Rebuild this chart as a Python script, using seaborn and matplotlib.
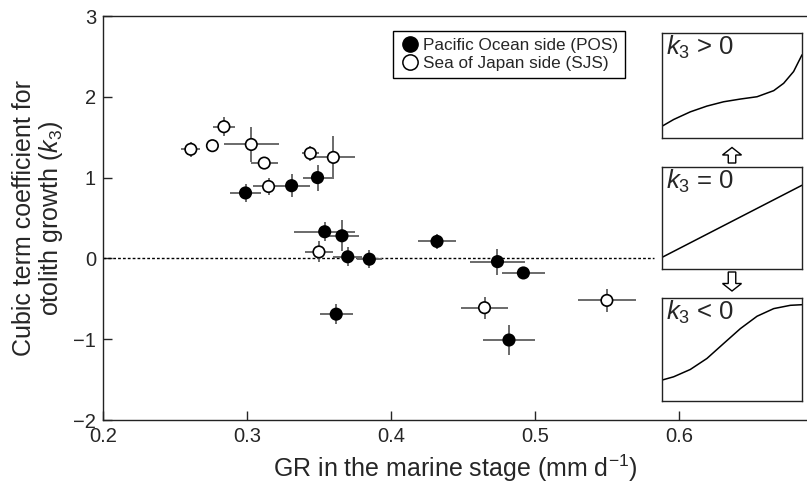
import numpy as np
import pandas as pd
import matplotlib
matplotlib.use("Agg")
import matplotlib.pyplot as plt
import seaborn as sns
from matplotlib.lines import Line2D
from matplotlib.patches import FancyArrow

# Pacific Ocean side (filled)
pos_gr = [0.299, 0.331, 0.349, 0.354, 0.366, 0.370, 0.385, 0.362, 0.432, 0.474, 0.492, 0.482]
pos_k3 = [0.81, 0.90, 1.00, 0.33, 0.28, 0.02, -0.01, -0.69, 0.21, -0.04, -0.18, -1.01]
pos_gr_err = [0.0105, 0.013, 0.0104, 0.021, 0.012, 0.010, 0.0087, 0.0116, 0.013, 0.019, 0.0147, 0.018]
pos_k3_err = [0.11, 0.14, 0.16, 0.12, 0.19, 0.12, 0.11, 0.12, 0.09, 0.16, 0.065, 0.19]

# Sea of Japan side (open)
sjs_gr = [0.261, 0.276, 0.284, 0.303, 0.312, 0.315, 0.344, 0.360, 0.350, 0.465, 0.550]
sjs_k3 = [1.35, 1.395, 1.63, 1.41, 1.18, 0.89, 1.30, 1.25, 0.08, -0.61, -0.52]
sjs_gr_err = [0.0067, 0.0, 0.0074, 0.019, 0.0093, 0.011, 0.006, 0.015, 0.010, 0.016, 0.020]
sjs_k3_err = [0.09, 0.0, 0.12, 0.22, 0.05, 0.10, 0.09, 0.27, 0.13, 0.136, 0.14]

pos_label = "Pacific Ocean side (POS)"
sjs_label = "Sea of Japan side (SJS)"

# schematic curves for the insets (axes fraction)
pos_curve_x = [0, 0.083, 0.202, 0.321, 0.44, 0.56, 0.679, 0.798, 0.869, 0.94, 1.0]
pos_curve_y = [0.112, 0.176, 0.249, 0.304, 0.345, 0.371, 0.393, 0.451, 0.521, 0.633, 0.792]
zero_curve_x = [0, 1.0]
zero_curve_y = [0.114, 0.821]
neg_curve_x = [0, 0.083, 0.202, 0.321, 0.44, 0.56, 0.679, 0.798, 0.917, 1.0]
neg_curve_y = [0.203, 0.235, 0.306, 0.413, 0.558, 0.703, 0.823, 0.897, 0.929, 0.935]
inset_labels = [r"$\mathit{k}_3$ > 0", r"$\mathit{k}_3$ = 0", r"$\mathit{k}_3$ < 0"]

df = pd.concat([
    pd.DataFrame({"gr": pos_gr, "k3": pos_k3, "gr_err": pos_gr_err, "k3_err": pos_k3_err, "side": "POS"}),
    pd.DataFrame({"gr": sjs_gr, "k3": sjs_k3, "gr_err": sjs_gr_err, "k3_err": sjs_k3_err, "side": "SJS"}),
], ignore_index=True)

sns.set_style("ticks")
plt.rcParams['font.family'] = ['Liberation Sans', 'DejaVu Sans']
plt.rcParams['mathtext.fontset'] = 'custom'
plt.rcParams['mathtext.rm'] = 'Liberation Sans'
plt.rcParams['mathtext.it'] = 'Liberation Sans:italic'

fig = plt.figure(figsize=(8.07, 4.9), dpi=100)
ax = fig.add_axes([103/807, 70/490, 704/807, 404/490])

ax.hlines(0, 0.2, 0.583, colors='black', linestyles=(0, (2, 1.5)), linewidth=1, zorder=1)

for side in ["POS", "SJS"]:
    d = df[df.side == side]
    ax.errorbar(d.gr, d.k3, xerr=d.gr_err, yerr=d.k3_err, fmt='none',
                ecolor='#6a6a6a', elinewidth=1.4, capsize=0, zorder=2)

sns.scatterplot(data=df, x="gr", y="k3", hue="side", palette={"POS": "black", "SJS": "white"},
                edgecolor="black", linewidth=1.2, s=68, legend=False, ax=ax, zorder=3)

ax.set_xlim(0.2, 0.689)
ax.set_ylim(-2, 3)
ax.set_xticks([0.2, 0.3, 0.4, 0.5, 0.6])
ax.set_xticklabels(["0.2", "0.3", "0.4", "0.5", "0.6"])
ax.set_yticks([-2, -1, 0, 1, 2, 3])
ax.set_yticklabels(["\u22122", "\u22121", "0", "1", "2", "3"])
ax.tick_params(direction='in', length=6.5, width=1, labelsize=14.5, pad=5)
for s in ['left', 'bottom', 'top']:
    ax.spines[s].set_linewidth(1)
    ax.spines[s].set_color('#222222')
ax.spines['right'].set_visible(False)

ax.set_xlabel("GR in the marine stage (mm d$^{\u22121}$)", fontsize=18, labelpad=5)
ax.set_ylabel("Cubic term coefficient for\notolith growth ($\\mathit{k}_3$)", fontsize=18, labelpad=6,
              linespacing=1.05)

handles = [Line2D([], [], marker='o', linestyle='none', markerfacecolor='black', markeredgecolor='black', markersize=11),
           Line2D([], [], marker='o', linestyle='none', markerfacecolor='white', markeredgecolor='black', markersize=11, markeredgewidth=1.1)]
leg = ax.legend(handles, [pos_label, sjs_label], loc='upper left',
                bbox_to_anchor=((393-103)/704, (420-31)/404), fontsize=12.3,
                frameon=True, fancybox=False, framealpha=1, edgecolor='black',
                borderpad=0.4, labelspacing=0.2, handletextpad=0.15, handlelength=1.2,
                borderaxespad=0)
leg.get_frame().set_linewidth(1)

# insets
inset_boxes = [(662, 33, 802, 138), (662, 167, 802, 269), (662, 298, 802, 401)]
curves = [(pos_curve_x, pos_curve_y), (zero_curve_x, zero_curve_y), (neg_curve_x, neg_curve_y)]
for (x0, y0, x1, y1), (cx, cy), lab in zip(inset_boxes, curves, inset_labels):
    iax = fig.add_axes([x0/807, (490-y1)/490, (x1-x0)/807, (y1-y0)/490])
    sns.lineplot(x=cx, y=cy, ax=iax, color='black', linewidth=1.1, sort=False)
    iax.set_xlim(0, 1)
    iax.set_ylim(0, 1)
    iax.set_xticks([])
    iax.set_yticks([])
    for s in iax.spines.values():
        s.set_visible(True)
        s.set_linewidth(1)
        s.set_color('#222222')
    iax.text(0.025, 0.99, lab, transform=iax.transAxes, ha='left', va='top', fontsize=18.5)

# hollow arrows between the insets
arrow_kw = dict(width=0.075, head_width=0.19, head_length=0.075, length_includes_head=True,
                facecolor='white', edgecolor='black', linewidth=1, transform=fig.dpi_scale_trans)
fig.add_artist(FancyArrow(7.32, (490-163)/100, 0, 0.155, **arrow_kw))
fig.add_artist(FancyArrow(7.32, (490-272)/100, 0, -0.19, **arrow_kw))

fig.savefig("out.png", dpi=100)
